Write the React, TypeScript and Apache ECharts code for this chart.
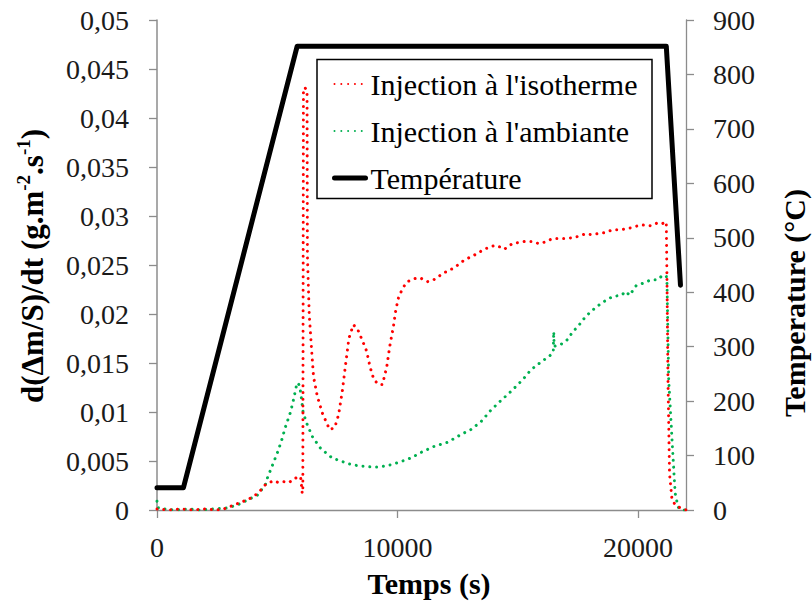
import React, { useEffect, useRef } from "react";
import * as echarts from "echarts";

// ---- Data ----
const timeIso = [0, 500, 1000, 1500, 2000, 2500, 2770, 3200, 3600, 3887, 4200, 4512, 4846, 5050, 5263, 5500, 5680, 5971, 6040, 6065, 6090, 6150, 6240, 6255, 6330, 6430, 6510, 6667, 6875, 7180, 7390, 7550, 7710, 7850, 7980, 8165, 8333, 8540, 8720, 8860, 9020, 9220, 9375, 9555, 9680, 9830, 9930, 10055, 10263, 10415, 10680, 10930, 11250, 11515, 11930, 12350, 12780, 13190, 13610, 13890, 14100, 14300, 14440, 14790, 15280, 15620, 15850, 15970, 16180, 16460, 16940, 17360, 17850, 18050, 18610, 18960, 19300, 19720, 20140, 20550, 20820, 21000, 21180, 21210, 21250, 21315, 21420, 21600, 21800, 22000];
const valIso = [0.0001, 0.0, 0.0001, 0.0, 0.0001, 0.0, 0.0001, 0.0005, 0.0009, 0.0012, 0.0017, 0.0026, 0.003, 0.0028, 0.0029, 0.0028, 0.0032, 0.0034, 0.0017, 0.002, 0.043, 0.0431, 0.0428, 0.026, 0.02, 0.0163, 0.0136, 0.0116, 0.0099, 0.0082, 0.0084, 0.0097, 0.0122, 0.015, 0.0175, 0.0189, 0.0185, 0.0173, 0.0162, 0.0146, 0.0133, 0.0128, 0.0128, 0.0146, 0.0167, 0.0187, 0.0204, 0.0218, 0.0228, 0.0233, 0.0236, 0.0237, 0.0233, 0.0235, 0.0242, 0.0247, 0.0255, 0.026, 0.0266, 0.0269, 0.027, 0.0268, 0.0266, 0.0272, 0.0274, 0.0274, 0.0272, 0.0272, 0.0274, 0.0277, 0.0277, 0.0278, 0.0282, 0.0281, 0.0283, 0.0286, 0.0286, 0.0288, 0.0291, 0.029, 0.0293, 0.0292, 0.0294, 0.0231, 0.0133, 0.0037, 0.001, 0.0004, 0.0002, 0.0];

const timeAmb = [0, 60, 300, 800, 1300, 1800, 2300, 2900, 3330, 3750, 4170, 4510, 4580, 4790, 5000, 5170, 5345, 5555, 5690, 5800, 5850, 5900, 5970, 6080, 6250, 6460, 6600, 6800, 6940, 7290, 7640, 7990, 8400, 8900, 9300, 9700, 10100, 10550, 11000, 11530, 12080, 12640, 13050, 13470, 13890, 14230, 14720, 15210, 15550, 15970, 16320, 16480, 16500, 16515, 16800, 17080, 17290, 17500, 17780, 17980, 18260, 18610, 18960, 19300, 19510, 19650, 19930, 20280, 20550, 20830, 21000, 21180, 21210, 21280, 21420, 21500, 21550, 21670, 21800, 22000];
const valAmb = [0.0009, 0.0002, 0.0001, 0.0, 0.0001, 0.0, 0.0001, 0.0002, 0.0005, 0.001, 0.0015, 0.0026, 0.0032, 0.0045, 0.0058, 0.007, 0.0085, 0.01, 0.0114, 0.0127, 0.013, 0.0128, 0.0121, 0.0099, 0.0087, 0.0075, 0.007, 0.0063, 0.006, 0.0053, 0.005, 0.0047, 0.0045, 0.0044, 0.0044, 0.0046, 0.0049, 0.0053, 0.0059, 0.0065, 0.0069, 0.0077, 0.0082, 0.009, 0.0102, 0.011, 0.0121, 0.0133, 0.0143, 0.0151, 0.0157, 0.0161, 0.0182, 0.0167, 0.0169, 0.0174, 0.0182, 0.0187, 0.0196, 0.0201, 0.0207, 0.0213, 0.0218, 0.0219, 0.0223, 0.0219, 0.0229, 0.0232, 0.0235, 0.0235, 0.0239, 0.0239, 0.0231, 0.0133, 0.0071, 0.0037, 0.0017, 0.0003, 0.0, 0.0];

const timeTemp = [0, 1100, 5830, 21180, 21770];
const valTemp = [41, 41, 852, 852, 413];

const xTicks = [0, 10000, 20000];
const seriesNames = ["Injection à l'isotherme", "Injection à l'ambiante", "Température"];

const FONT = "Liberation Serif";
const AXIS_GRAY = "#8c8c8c";

const zip = (t: number[], v: number[]) => t.map((x, i) => [x, v[i]]);

export default function App() {
  const ref = useRef<HTMLDivElement>(null);
  useEffect(() => {
    if (!ref.current) return;
    const chart = echarts.init(ref.current, undefined, { renderer: "svg" });
    const labelStyle = { fontFamily: FONT, fontSize: 28, color: "#1a1a1a" };
    const dotted = { width: 3, type: [0.01, 6.8], cap: "round" };
    chart.setOption({
      animation: false,
      backgroundColor: "#fff",
      textStyle: { fontFamily: FONT },
      grid: { left: 157, right: 126, top: 20, bottom: 93, containLabel: false },
      xAxis: {
        type: "value",
        min: 0,
        max: 22000,
        interval: 10000,
        splitLine: { show: false },
        axisLine: { show: true, onZero: false, lineStyle: { color: AXIS_GRAY, width: 1.3 } },
        axisTick: { show: true, length: 8, customValues: xTicks, lineStyle: { color: AXIS_GRAY, width: 1.3 } },
        axisLabel: { ...labelStyle, margin: 23, customValues: xTicks, formatter: (v: number) => String(v) },
      },
      yAxis: [
        {
          type: "value",
          min: 0,
          max: 0.05,
          interval: 0.005,
          position: "left",
          splitLine: { show: false },
          axisLine: { show: true, lineStyle: { color: AXIS_GRAY, width: 1.5 } },
          axisTick: { show: true, length: 8, lineStyle: { color: AXIS_GRAY, width: 1.3 } },
          axisLabel: {
            ...labelStyle,
            margin: 28,
            formatter: (v: number) => (v === 0 ? "0" : String(parseFloat(v.toFixed(4))).replace(".", ",")),
          },
        },
        {
          type: "value",
          min: 0,
          max: 900,
          interval: 100,
          position: "right",
          splitLine: { show: false },
          axisLine: { show: true, lineStyle: { color: AXIS_GRAY, width: 1.3 } },
          axisTick: { show: true, length: 8, lineStyle: { color: AXIS_GRAY, width: 1.3 } },
          axisLabel: { ...labelStyle, margin: 27, formatter: (v: number) => String(v) },
        },
      ],
      legend: {
        orient: "vertical",
        left: 332,
        top: 69,
        padding: 0,
        itemWidth: 31,
        itemHeight: 14,
        itemGap: 17,
        selectedMode: false,
        data: [
          { name: seriesNames[0] },
          { name: seriesNames[1] },
          { name: seriesNames[2], lineStyle: { width: 5 } },
        ],
        itemStyle: { opacity: 0 },
        textStyle: { fontFamily: FONT, fontSize: 30, color: "#000" },
      },
      series: [
        {
          name: seriesNames[0],
          type: "line",
          yAxisIndex: 0,
          data: zip(timeIso, valIso),
          showSymbol: false,
          symbol: "none",
          lineStyle: { color: "#ff0000", ...dotted },
          itemStyle: { color: "#ff0000" },
          z: 3,
        },
        {
          name: seriesNames[1],
          type: "line",
          yAxisIndex: 0,
          data: zip(timeAmb, valAmb),
          showSymbol: false,
          symbol: "none",
          lineStyle: { color: "#00b050", ...dotted },
          itemStyle: { color: "#00b050" },
          z: 2,
        },
        {
          name: seriesNames[2],
          type: "line",
          yAxisIndex: 1,
          data: zip(timeTemp, valTemp),
          showSymbol: false,
          symbol: "none",
          lineStyle: { color: "#000", width: 5, cap: "round", join: "round" },
          itemStyle: { color: "#000" },
          z: 4,
        },
      ],
      graphic: [
        {
          type: "rect",
          shape: { x: 317, y: 59.5, width: 335, height: 139 },
          style: { fill: "none", stroke: "#000", lineWidth: 1.5 },
          z: 10,
        },
        {
          type: "text",
          x: 31,
          y: 266,
          rotation: Math.PI / 2,
          style: {
            text: "{b|d(Δm/S)/dt (g.m}{s|-2}{b|.s}{s|-1}{b|)}",
            align: "center",
            verticalAlign: "middle",
            rich: {
              b: { fontFamily: FONT, fontSize: 31, fontWeight: "bold", fill: "#000", verticalAlign: "bottom", lineHeight: 34 },
              s: { fontFamily: FONT, fontSize: 19, fontWeight: "bold", fill: "#000", verticalAlign: "top", lineHeight: 34 },
            },
          },
        },
        {
          type: "text",
          x: 794,
          y: 303,
          rotation: Math.PI / 2,
          style: {
            text: "Temperature (°C)",
            fontFamily: FONT,
            fontSize: 30,
            fontWeight: "bold",
            fill: "#000",
            align: "center",
            verticalAlign: "middle",
          },
        },
        {
          type: "text",
          x: 429,
          y: 583,
          style: {
            text: "Temps (s)",
            fontFamily: FONT,
            fontSize: 30,
            fontWeight: "bold",
            fill: "#000",
            align: "center",
            verticalAlign: "middle",
          },
        },
      ],
    });
    return () => chart.dispose();
  }, []);
  return <div ref={ref} style={{ position: "fixed", left: 0, top: 0, width: 812, height: 603 }} />;
}
